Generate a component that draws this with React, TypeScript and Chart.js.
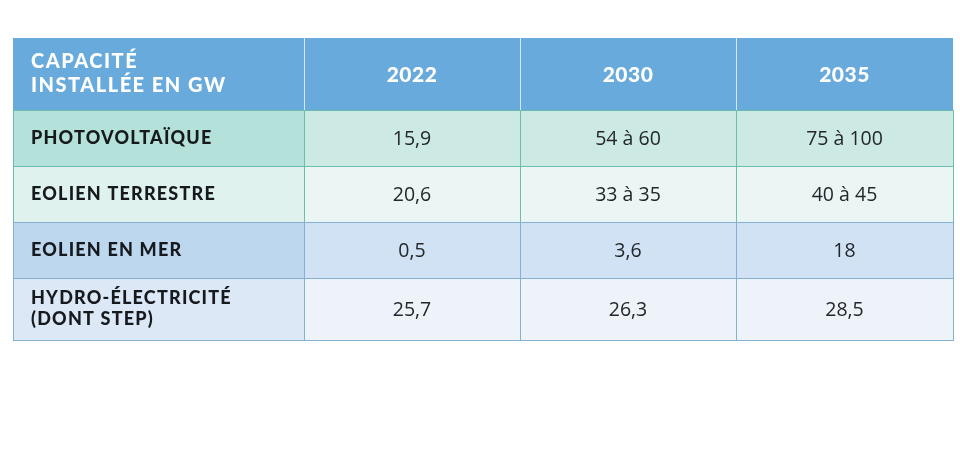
import React, { useEffect, useRef } from "react";
import { Chart, registerables } from "chart.js";

Chart.register(...registerables);

// ---- data ----
const headerTitle = ["CAPACITÉ", "INSTALLÉE EN GW"];
const years = ["2022", "2030", "2035"];
const technologies = [
  ["PHOTOVOLTAÏQUE"],
  ["EOLIEN TERRESTRE"],
  ["EOLIEN EN MER"],
  ["HYDRO-ÉLECTRICITÉ", "(DONT STEP)"],
];
const values2022 = ["15,9", "20,6", "0,5", "25,7"];
const values2030 = ["54 à 60", "33 à 35", "3,6", "26,3"];
const values2035 = ["75 à 100", "40 à 45", "18", "28,5"];

// ---- layout (scale units) ----
const colEdges = [0, 291, 507, 723, 940];
const rowEdges = [0, 72, 128, 184, 240, 302];

// ---- styles ----
const headerFill = "#69aadd";
const labelFills = ["#b4e1d9", "#dff2ee", "#bdd7ef", "#dce8f6"];
const cellFills = ["#cde9e4", "#ebf6f4", "#d0e2f3", "#eef3fa"];
const borderColors = ["#6cbdb0", "#6cbdb0", "#86b0d0", "#86b0d0"];

const tablePlugin = {
  id: "tablePlugin",
  beforeDatasetsDraw(chart: any) {
    const ctx = chart.ctx as CanvasRenderingContext2D;
    const xs = chart.scales.x;
    const ys = chart.scales.y;
    const X = (v: number) => xs.getPixelForValue(v);
    const Y = (v: number) => ys.getPixelForValue(v);
    const valueCols = [values2022, values2030, values2035];
    ctx.save();

    // header fills
    ctx.fillStyle = headerFill;
    ctx.fillRect(X(colEdges[0]), Y(rowEdges[0]), X(colEdges[4]) - X(colEdges[0]), Y(rowEdges[1]) - Y(rowEdges[0]));

    // body fills
    for (let r = 0; r < technologies.length; r++) {
      const y0 = Y(rowEdges[r + 1]);
      const y1 = Y(rowEdges[r + 2]);
      for (let c = 0; c < 4; c++) {
        const x0 = X(colEdges[c]);
        const x1 = X(colEdges[c + 1]);
        ctx.fillStyle = c === 0 ? labelFills[r] : cellFills[r];
        ctx.fillRect(x0, y0, x1 - x0, y1 - y0);
      }
    }

    // header separators
    ctx.strokeStyle = "rgba(225,238,250,0.9)";
    ctx.lineWidth = 1;
    for (let c = 1; c < 4; c++) {
      const x = Math.round(X(colEdges[c])) + 0.5;
      ctx.beginPath();
      ctx.moveTo(x, Y(rowEdges[0]));
      ctx.lineTo(x, Y(rowEdges[1]));
      ctx.stroke();
    }

    // body borders
    for (let r = 0; r < technologies.length; r++) {
      const y0 = Math.round(Y(rowEdges[r + 1])) + 0.5;
      const y1 = Math.round(Y(rowEdges[r + 2])) + 0.5;
      ctx.strokeStyle = borderColors[r];
      for (let c = 0; c < 4; c++) {
        const x0 = Math.round(X(colEdges[c])) + 0.5;
        const x1 = Math.round(X(colEdges[c + 1])) + 0.5;
        ctx.strokeRect(x0, y0, x1 - x0, y1 - y0);
      }
    }

    // header text
    ctx.fillStyle = "#ffffff";
    ctx.textBaseline = "middle";
    (ctx as any).letterSpacing = "1.5px";
    ctx.font = "900 20px Lato";
    ctx.textAlign = "left";
    const hy = (Y(rowEdges[0]) + Y(rowEdges[1])) / 2;
    headerTitle.forEach((t, i) => {
      ctx.fillText(t, X(colEdges[0]) + 18, hy + (i - (headerTitle.length - 1) / 2) * 24);
    });
    (ctx as any).letterSpacing = "0.5px";
    ctx.font = "900 21px Lato";
    ctx.textAlign = "center";
    years.forEach((t, i) => {
      ctx.fillText(t, (X(colEdges[i + 1]) + X(colEdges[i + 2])) / 2, hy + 1);
    });

    // body text
    for (let r = 0; r < technologies.length; r++) {
      const cy = (Y(rowEdges[r + 1]) + Y(rowEdges[r + 2])) / 2;
      ctx.fillStyle = "#161a1e";
      ctx.font = "900 18px Lato";
      (ctx as any).letterSpacing = "1.2px";
      ctx.textAlign = "left";
      const lines = technologies[r];
      lines.forEach((t, i) => {
        ctx.fillText(t, X(colEdges[0]) + 18, cy + (i - (lines.length - 1) / 2) * 21);
      });
      (ctx as any).letterSpacing = "0px";
      ctx.fillStyle = "#23272b";
      ctx.font = "400 19.5px 'Open Sans'";
      ctx.textAlign = "center";
      valueCols.forEach((col, c) => {
        ctx.fillText(col[r], (X(colEdges[c + 1]) + X(colEdges[c + 2])) / 2, cy + 1);
      });
    }
    ctx.restore();
  },
};

export default function App() {
  const ref = useRef<HTMLCanvasElement>(null);
  useEffect(() => {
    if (!ref.current) return;
    const chart = new Chart(ref.current, {
      type: "bar",
      data: { datasets: [] },
      options: {
        responsive: false,
        animation: false,
        layout: { padding: { left: 13, right: 7, top: 38, bottom: 119 } },
        plugins: { legend: { display: false }, tooltip: { enabled: false } },
        scales: {
          x: { type: "linear", display: false, offset: false, grace: 0, min: colEdges[0], max: colEdges[colEdges.length - 1] },
          y: { type: "linear", display: false, offset: false, grace: 0, reverse: true, min: rowEdges[0], max: rowEdges[rowEdges.length - 1] },
        },
      },
      plugins: [tablePlugin],
    });
    return () => chart.destroy();
  }, []);
  return (
    <div style={{ position: "absolute", left: 0, top: 0, width: 960, height: 459, background: "#fff" }}>
      <canvas ref={ref} width={960} height={459} />
    </div>
  );
}
